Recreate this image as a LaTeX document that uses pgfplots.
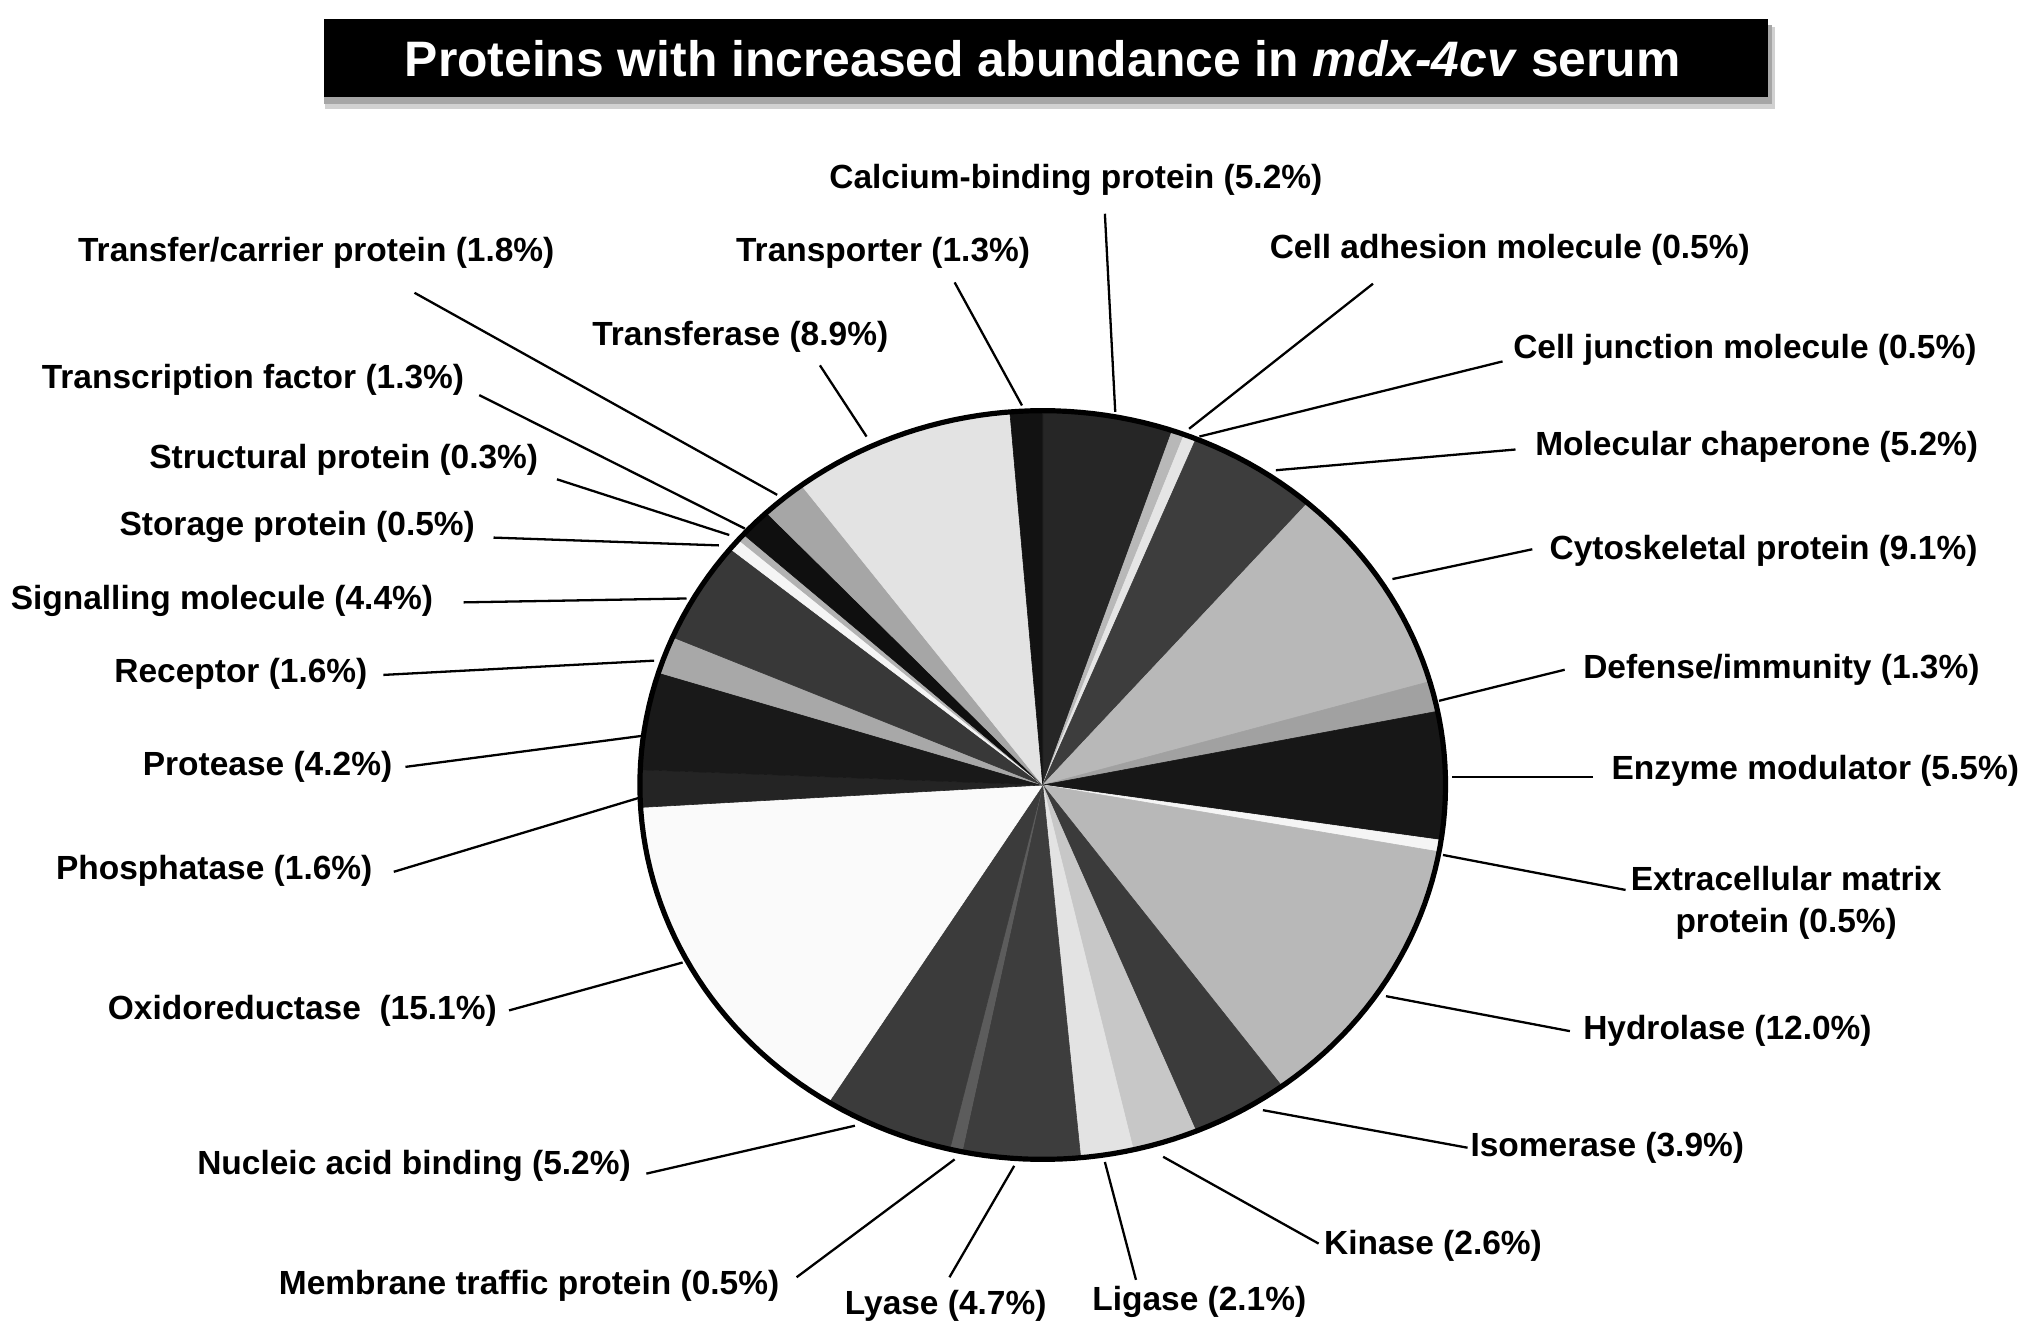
\documentclass[border=0pt]{standalone}
\usepackage{fontspec}
\setmainfont{Liberation Sans}
\usepackage{pgfplots}
\pgfplotsset{compat=1.18}
% slice colours (grey levels)
\definecolor{sCal}{gray}{0.15}
\definecolor{sCad}{gray}{0.72}
\definecolor{sCju}{gray}{0.90}
\definecolor{sMol}{gray}{0.24}
\definecolor{sCyt}{gray}{0.72}
\definecolor{sDef}{gray}{0.63}
\definecolor{sEnz}{gray}{0.09}
\definecolor{sEcm}{gray}{0.96}
\definecolor{sHyd}{gray}{0.72}
\definecolor{sIso}{gray}{0.23}
\definecolor{sKin}{gray}{0.78}
\definecolor{sLig}{gray}{0.89}
\definecolor{sLya}{gray}{0.24}
\definecolor{sMem}{gray}{0.36}
\definecolor{sNuc}{gray}{0.23}
\definecolor{sOxi}{gray}{0.98}
\definecolor{sPho}{gray}{0.14}
\definecolor{sPro}{gray}{0.10}
\definecolor{sRec}{gray}{0.66}
\definecolor{sSig}{gray}{0.22}
\definecolor{sSto}{gray}{0.96}
\definecolor{sStr}{gray}{0.70}
\definecolor{sTrf}{gray}{0.06}
\definecolor{sTca}{gray}{0.65}
\definecolor{sTra}{gray}{0.89}
\definecolor{sTpo}{gray}{0.07}
\tikzset{lab/.style={font=\fontsize{16.8}{20.8}\selectfont\bfseries, inner sep=0pt, text=black}}
% pie: centre (805,606), radii 311 x 289, total 99.8 %
\newcommand{\slice}[3]{\addplot[fill=#3, draw=#3, line width=0.3pt, domain=#1:#2, samples=40]
  ({805+311*sin(x*360/99.8)},{606-289*cos(x*360/99.8)}) -- (axis cs:805,606) -- cycle;}
\newcommand{\lead}[4]{\addplot[black, line width=1.15pt] coordinates {(#1,#2) (#3,#4)};}
\begin{document}
\begin{tikzpicture}
\begin{axis}[scale only axis, width=1019.2pt, height=670pt,
  xmin=0, xmax=1568, ymin=0, ymax=1030.7, y dir=reverse,
  hide axis, clip=false]
% title box
\fill[black!18] (axis cs:251,21) rectangle (axis cs:1370,84);
\fill[black!35] (axis cs:250,19) rectangle (axis cs:1368,80);
\fill[black] (axis cs:250,15) rectangle (axis cs:1365,75);
\node[font=\fontsize{25}{28}\selectfont\bfseries, text=white, inner sep=0pt] at (axis cs:805,45)
  {Proteins with increased\ abundance\ in\ \textit{mdx-4cv}\ serum};
% slices (cumulative percentages)
\slice{0}{5.2}{sCal}
\slice{5.2}{5.7}{sCad}
\slice{5.7}{6.2}{sCju}
\slice{6.2}{11.4}{sMol}
\slice{11.4}{20.5}{sCyt}
\slice{20.5}{21.8}{sDef}
\slice{21.8}{27.3}{sEnz}
\slice{27.3}{27.8}{sEcm}
\slice{27.8}{39.8}{sHyd}
\slice{39.8}{43.7}{sIso}
\slice{43.7}{46.3}{sKin}
\slice{46.3}{48.4}{sLig}
\slice{48.4}{53.1}{sLya}
\slice{53.1}{53.6}{sMem}
\slice{53.6}{58.8}{sNuc}
\slice{58.8}{73.9}{sOxi}
\slice{73.9}{75.5}{sPho}
\slice{75.5}{79.7}{sPro}
\slice{79.7}{81.3}{sRec}
\slice{81.3}{85.7}{sSig}
\slice{85.7}{86.2}{sSto}
\slice{86.2}{86.5}{sStr}
\slice{86.5}{87.8}{sTrf}
\slice{87.8}{89.6}{sTca}
\slice{89.6}{98.5}{sTra}
\slice{98.5}{99.8}{sTpo}
% outline
\addplot[black, line width=2.6pt, domain=0:99.8, samples=200]
  ({805+311*sin(x*360/99.8)},{606-289*cos(x*360/99.8)}) -- cycle;
% leader lines
\lead{853}{165}{861}{318}
\lead{1060}{219}{918}{331}
\lead{1160}{279}{926}{337}
\lead{1170}{347}{985}{363}
\lead{1183}{424}{1075}{447}
\lead{1208}{517}{1111}{541}
\lead{1230}{600}{1121}{600}
\lead{1255}{687}{1114}{660}
\lead{1212}{796}{1070}{769}
\lead{1133}{886}{975}{857}
\lead{1018}{960}{898}{893}
\lead{877}{988}{853}{897}
\lead{733}{986}{783}{900}
\lead{615}{986}{737}{895}
\lead{499}{906}{660}{869}
\lead{393}{780}{527}{743}
\lead{304}{673}{493}{616}
\lead{313}{592}{496}{568}
\lead{296}{521}{505}{510}
\lead{358}{465}{530}{462}
\lead{381}{415}{555}{421}
\lead{430}{370}{563}{413}
\lead{370}{305}{575}{408}
\lead{320}{226}{600}{382}
\lead{633}{282}{669}{337}
\lead{737}{218}{789}{313}
% labels
\node[lab, anchor=west] at (axis cs:640,139) {Calcium-binding protein (5.2\%)};
\node[lab, anchor=west] at (axis cs:980,193) {Cell adhesion molecule (0.5\%)};
\node[lab, anchor=west] at (axis cs:1168,270) {Cell junction molecule (0.5\%)};
\node[lab, anchor=west] at (axis cs:1185,345) {Molecular chaperone (5.2\%)};
\node[lab, anchor=west] at (axis cs:1196,425) {Cytoskeletal protein (9.1\%)};
\node[lab, anchor=west] at (axis cs:1222,517) {Defense/immunity (1.3\%)};
\node[lab, anchor=east] at (axis cs:1559,595) {Enzyme modulator (5.5\%)};
\node[lab, align=center] at (axis cs:1379,697) {Extracellular matrix\\protein (0.5\%)};
\node[lab, anchor=west] at (axis cs:1222,796) {Hydrolase (12.0\%)};
\node[lab, anchor=west] at (axis cs:1135,886) {Isomerase (3.9\%)};
\node[lab, anchor=west] at (axis cs:1022,962) {Kinase (2.6\%)};
\node[lab, anchor=west] at (axis cs:843,1005) {Ligase (2.1\%)};
\node[lab, anchor=west] at (axis cs:652,1008) {Lyase (4.7\%)};
\node[lab, anchor=west] at (axis cs:215,993) {Membrane traffic protein (0.5\%)};
\node[lab, anchor=west] at (axis cs:152,900) {Nucleic acid binding (5.2\%)};
\node[lab, anchor=west] at (axis cs:83,780) {Oxidoreductase\ \ (15.1\%)};
\node[lab, anchor=west] at (axis cs:43,672) {Phosphatase (1.6\%)};
\node[lab, anchor=west] at (axis cs:110,592) {Protease (4.2\%)};
\node[lab, anchor=west] at (axis cs:88,520) {Receptor (1.6\%)};
\node[lab, anchor=west] at (axis cs:8,464) {Signalling molecule (4.4\%)};
\node[lab, anchor=west] at (axis cs:92,407) {Storage protein (0.5\%)};
\node[lab, anchor=west] at (axis cs:115,355) {Structural protein (0.3\%)};
\node[lab, anchor=west] at (axis cs:32,293) {Transcription factor (1.3\%)};
\node[lab, anchor=west] at (axis cs:60,195) {Transfer/carrier protein (1.8\%)};
\node[lab, anchor=west] at (axis cs:457,260) {Transferase (8.9\%)};
\node[lab, anchor=west] at (axis cs:568,195) {Transporter (1.3\%)};
\end{axis}
\pgfresetboundingbox
\path[use as bounding box] (current axis.south west) rectangle (current axis.north east);
\end{tikzpicture}
\end{document}
